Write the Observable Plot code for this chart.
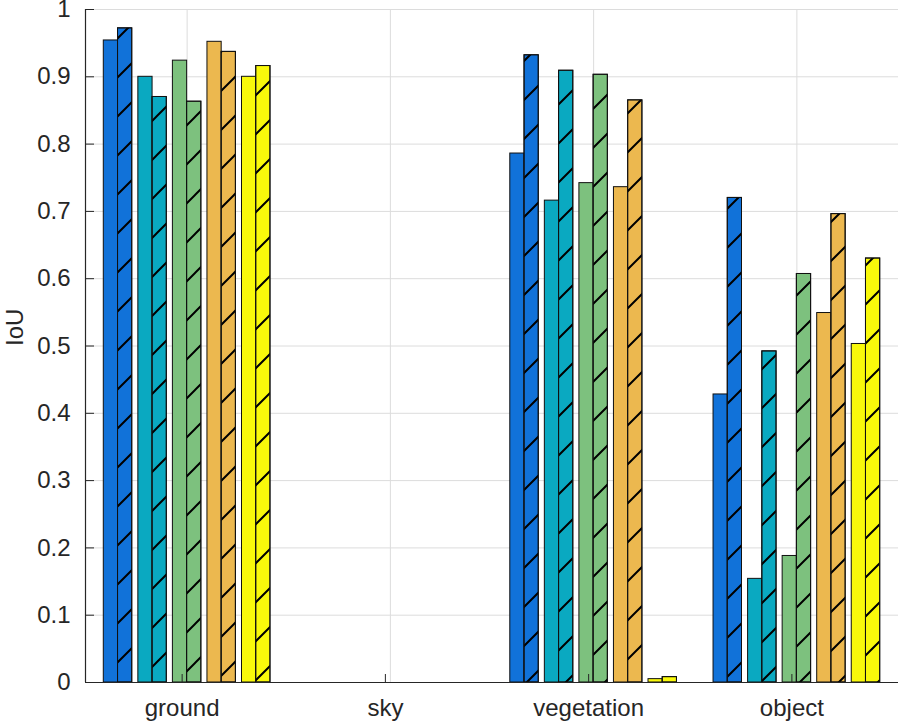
<!DOCTYPE html>
<html><head><meta charset="utf-8">
<script src="https://cdn.jsdelivr.net/npm/d3@7"></script>
<script src="https://cdn.jsdelivr.net/npm/@observablehq/plot@0.6"></script>
<style>body{margin:0;background:#fff} svg{display:block}</style>
</head><body><div id="chart"></div>
<script>
const categories = ["ground", "sky", "vegetation", "object"];
const methodColors = ["#1172D9", "#0AA9C1", "#7DC17E", "#ECB84F", "#F9F90B"];

// values per category (ground, sky, vegetation, object)
const bluePlain     = [0.954, 0, 0.786, 0.428];
const blueHatched   = [0.972, 0, 0.932, 0.720];
const tealPlain     = [0.900, 0, 0.716, 0.154];
const tealHatched   = [0.870, 0, 0.909, 0.492];
const greenPlain    = [0.924, 0, 0.742, 0.188];
const greenHatched  = [0.863, 0, 0.903, 0.607];
const orangePlain   = [0.952, 0, 0.736, 0.549];
const orangeHatched = [0.937, 0, 0.865, 0.696];
const yellowPlain   = [0.900, 0, 0.005, 0.503];
const yellowHatched = [0.916, 0, 0.008, 0.630];

const yTicks = [0, 0.1, 0.2, 0.3, 0.4, 0.5, 0.6, 0.7, 0.8, 0.9, 1];
const yTickLabels = ["0", "0.1", "0.2", "0.3", "0.4", "0.5", "0.6", "0.7", "0.8", "0.9", "1"];

const series = [
  {method: 0, variant: 0, values: bluePlain},
  {method: 0, variant: 1, values: blueHatched},
  {method: 1, variant: 0, values: tealPlain},
  {method: 1, variant: 1, values: tealHatched},
  {method: 2, variant: 0, values: greenPlain},
  {method: 2, variant: 1, values: greenHatched},
  {method: 3, variant: 0, values: orangePlain},
  {method: 3, variant: 1, values: orangeHatched},
  {method: 4, variant: 0, values: yellowPlain},
  {method: 4, variant: 1, values: yellowHatched}
];

const rows = series.flatMap(s => s.values.map((v, i) => ({cat: i, method: s.method, variant: s.variant, value: v})));
const pitch = 0.17, barW = 0.07;
const leftOf = d => d.cat + 1 + (d.method - 2) * pitch + (d.variant - 1) * barW;
const rightOf = d => leftOf(d) + barW;
const catTicks = categories.map((c, i) => i + 1);

const chart = Plot.plot({
  width: 900, height: 723,
  marginLeft: 85, marginRight: 2, marginTop: 9, marginBottom: 41,
  style: {fontFamily: "'Liberation Sans', Arial, sans-serif", fontSize: "24px", color: "#262626", background: "white"},
  x: {domain: [0.5, 4.5]},
  y: {domain: [0, 1]},
  color: {type: "identity"},
  marks: [
    Plot.gridX(catTicks, {stroke: "#dcdcdc", strokeOpacity: 1}),
    Plot.gridY(yTicks, {stroke: "#dcdcdc", strokeOpacity: 1}),
    Plot.rect(rows, {x1: leftOf, x2: rightOf, y1: 0, y2: "value", fill: d => methodColors[d.method], stroke: "#111", strokeWidth: 1}),
    Plot.rect(rows.filter(d => d.variant === 1), {x1: leftOf, x2: rightOf, y1: 0, y2: "value", fill: "url(#hatch)", stroke: "#111", strokeWidth: 1}),
    Plot.ruleX([0.5], {stroke: "#262626", strokeWidth: 1.2}),
    Plot.ruleY([0], {stroke: "#262626", strokeWidth: 1.2}),
    Plot.axisY(yTicks, {tickSize: -9, tickPadding: 24, tickFormat: d => yTickLabels[Math.round(d * 10)], label: null}),
    Plot.axisX(catTicks, {tickSize: -8, tickPadding: 24, dx: -5, tickFormat: d => categories[d - 1], label: null}),
    Plot.text(["IoU"], {frameAnchor: "left", rotate: -90, dx: -70, fontSize: 24, fill: "#262626"})
  ]
});

const defs = d3.select(chart).insert("defs", ":first-child");
const pat = defs.append("pattern").attr("id", "hatch").attr("patternUnits", "userSpaceOnUse").attr("width", 39).attr("height", 39);
pat.append("path").attr("d", "M0,39 L39,0 M-3,3 L3,-3 M36,42 L42,36").attr("stroke", "#000").attr("stroke-width", 2).attr("fill", "none");

document.getElementById("chart").appendChild(chart);
</script>
</body></html>
